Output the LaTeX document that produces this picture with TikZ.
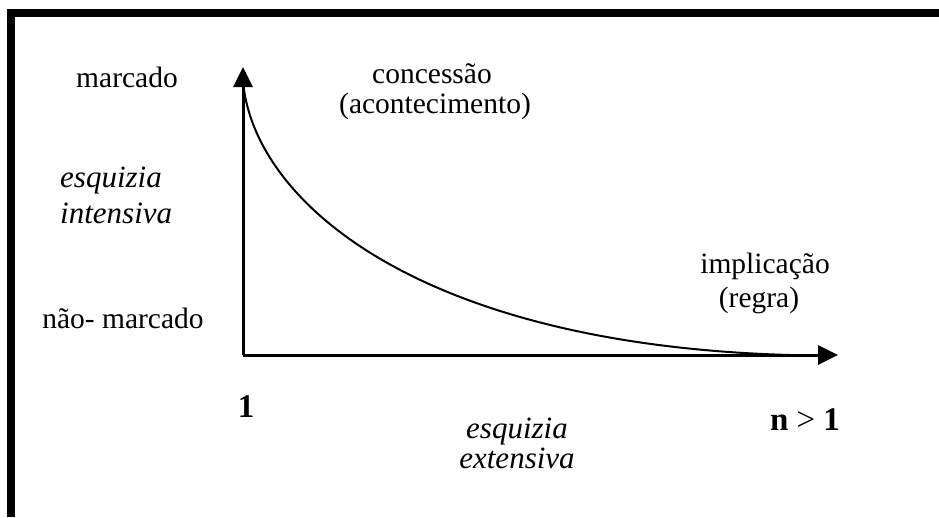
\documentclass[tikz,border=0pt]{standalone}
\usepackage{fontspec}
\setmainfont{Liberation Serif}
\usetikzlibrary{arrows.meta}
\tikzset{
  lbl/.style={anchor=base, inner sep=0pt, font=\fontsize{29.5}{34}\selectfont},
  ilbl/.style={lbl, font=\fontsize{31}{36}\selectfont\itshape},
  blbl/.style={lbl, font=\fontsize{33}{38}\selectfont},
  axis/.style={line width=3pt, -{Triangle[length=20pt,width=19pt]}},
  frame/.style={line width=8pt},
}
\begin{document}
\begin{tikzpicture}[x=1pt,y=-1pt]
\useasboundingbox (0,0) rectangle (939,517);
% frame
\coordinate (FL) at (11,517);
\coordinate (FC) at (11,13);
\coordinate (FR) at (945,13);
\draw[frame] (FL) -- (FC) -- (FR);
% axes
\coordinate (O) at (243,355);
\coordinate (Ytop) at (243,67);
\coordinate (Xend) at (838,355);
\draw[axis] (O) -- (Ytop);
\draw[axis] (O) -- (Xend);
% curve
\coordinate (C0) at (244,90);
\coordinate (C1) at (790,355);
\draw[line width=2pt] (C0) .. controls (262,210) and (430,345) .. (C1);
% labels
\node[lbl] (marc) at (127,87) {marcado};
\node[lbl] (conc) at (432,83) {concessão};
\node[lbl] (acon) at (435,113) {(acontecimento)};
\node[ilbl, anchor=base west] (esq1) at (60,187) {esquizia};
\node[ilbl, anchor=base west] (int1) at (60,223) {intensiva};
\node[lbl] (naom) at (123,328) {não- marcado};
\node[lbl] (impl) at (765,273) {implicação};
\node[lbl] (regr) at (759,307) {(regra)};
\node[blbl] (one) at (246,417) {\textbf{1}};
\node[blbl] (n1) at (805,430) {\textbf{n} > \textbf{1}};
\node[ilbl] (esq2) at (517,438) {esquizia};
\node[ilbl] (ext2) at (517,468) {extensiva};
\end{tikzpicture}
\end{document}
